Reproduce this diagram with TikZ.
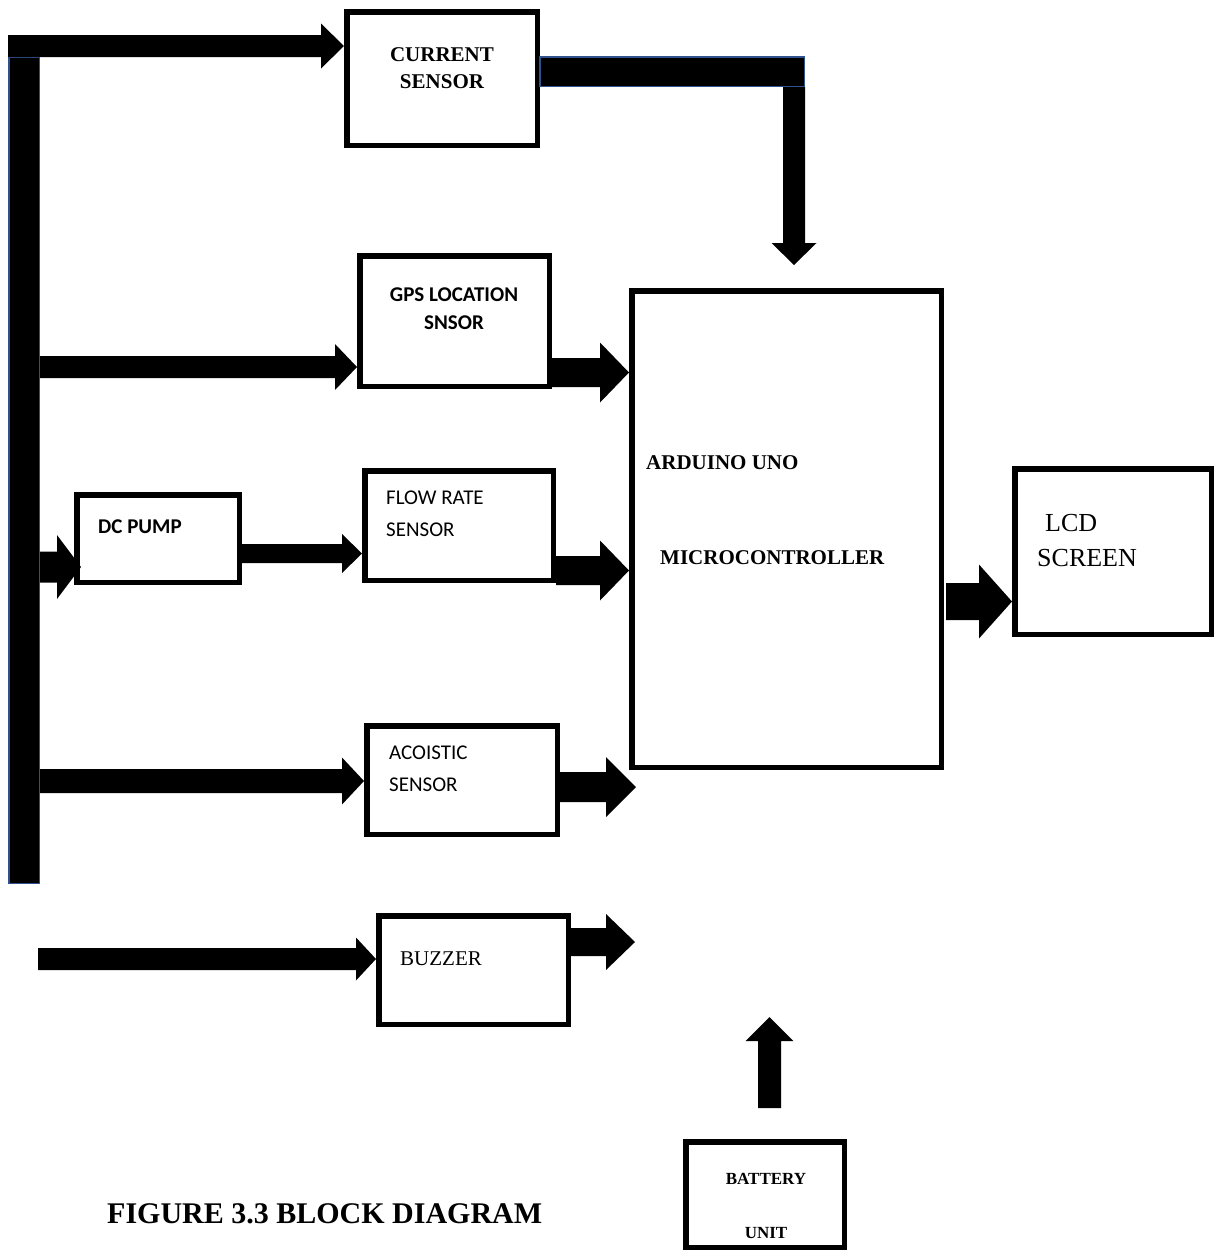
\documentclass[tikz,border=0pt]{standalone}
\usepackage{fontspec}
\setmainfont{Liberation Serif}
\newfontfamily\calibfont{Carlito}
\usetikzlibrary{calc}
\definecolor{barblue}{HTML}{2F528F}
% horizontal block arrow: #1 start, #2 tip, #3 half shaft, #4 half head, #5 head length (signed, +right)
\newcommand\harr[5]{\fill let \p1=(#1), \p2=(#2) in
  (\x1,{\y2+#3pt}) -- ({\x2-(#5)*1pt},{\y2+#3pt}) -- ({\x2-(#5)*1pt},{\y2+#4pt}) -- (\x2,\y2)
  -- ({\x2-(#5)*1pt},{\y2-#4pt}) -- ({\x2-(#5)*1pt},{\y2-#3pt}) -- (\x1,{\y2-#3pt}) -- cycle;}
% vertical block arrow: #5 head length (signed, + for downward)
\newcommand\varr[5]{\fill let \p1=(#1), \p2=(#2) in
  ({\x2-#3pt},\y1) -- ({\x2-#3pt},{\y2+(#5)*1pt}) -- ({\x2-#4pt},{\y2+(#5)*1pt}) -- (\x2,\y2)
  -- ({\x2+#4pt},{\y2+(#5)*1pt}) -- ({\x2+#3pt},{\y2+(#5)*1pt}) -- ({\x2+#3pt},\y1) -- cycle;}
\begin{document}
\begin{tikzpicture}[x=1pt,y=-1pt,
  box/.style={draw=black,line width=5.5pt,fill=white,inner sep=0pt},
  lbl/.style={inner sep=0pt},
  tb/.style={lbl,font=\fontsize{21}{25}\selectfont\bfseries},
  tr/.style={lbl,font=\fontsize{21}{25}\selectfont},
  cb/.style={lbl,font=\calibfont\fontsize{21}{25}\selectfont\bfseries},
  cr/.style={lbl,font=\calibfont\fontsize{21}{25}\selectfont}]
\useasboundingbox (0,0) rectangle (1215,1251);
\fill[white] (0,0) rectangle (1215,1251);

% boxes
\node[box,minimum width=190.5pt,minimum height=133.5pt] (cur)  at (442,78.5) {};
\node[box,minimum width=189.5pt,minimum height=130.5pt] (gps)  at (454.5,321) {};
\node[box,minimum width=162.5pt,minimum height=87.5pt]  (dcp)  at (158,538.5) {};
\node[box,minimum width=188.5pt,minimum height=109.5pt] (flow) at (459,525.5) {};
\node[box,minimum width=190.5pt,minimum height=108.5pt] (aco)  at (462,780) {};
\node[box,minimum width=189.5pt,minimum height=108.5pt] (buz)  at (473.5,970) {};
\node[box,minimum width=309.5pt,minimum height=476.5pt] (ard)  at (786.5,529) {};
\node[box,minimum width=196.5pt,minimum height=165.5pt] (lcd)  at (1113,551.5) {};
\node[box,minimum width=158.5pt,minimum height=105.5pt] (bat)  at (765,1194.5) {};

% left bus bar
\filldraw[fill=black,draw=barblue,line width=1.5pt] (8.75,57) rectangle (39.25,883.25);
\coordinate (b1) at (8,46);
\coordinate (b2) at (40,367);
\coordinate (b3) at (40,567);
\coordinate (b4) at (40,781);
\coordinate (b5) at (38,959);
\coordinate (pumpin) at (81,567);
\coordinate (g1) at (552,372.5);
\coordinate (f1) at (556,570.5);
\coordinate (d1) at (242,553.5);
\coordinate (a1) at (560,787);
\coordinate (a2) at (636,787);
\coordinate (z1) at (571,942);
\coordinate (z2) at (635,942);
\coordinate (m1) at (946,601.5);
\coordinate (c1) at (794,87);
\coordinate (c2) at (794,265);
\coordinate (p1) at (769.5,1108);
\coordinate (p2) at (769.5,1017);

% current sensor output bar
\filldraw[fill=black,draw=barblue,line width=1.5pt] (540,56.75) rectangle (804.25,86.25);

% arrows
\harr{b1}{cur.west |- b1}{11}{22.5}{23}
\harr{b2}{gps.west |- b2}{11}{23}{22}
\harr{g1}{ard.west |- g1}{14.5}{30}{29}
\harr{b3}{pumpin}{15.5}{32}{24}
\harr{d1}{flow.west |- d1}{9.5}{19.5}{20}
\harr{f1}{ard.west |- f1}{14.5}{30}{29}
\harr{b4}{aco.west |- b4}{12}{23.5}{22}
\harr{a1}{a2}{15}{30}{30}
\harr{b5}{buz.west |- b5}{11}{21.5}{20}
\harr{z1}{z2}{14}{28}{29}
\harr{m1}{lcd.west |- m1}{18.5}{37}{33}
\varr{c1}{c2}{11}{22.5}{22}
\varr{p1}{p2}{11.5}{24}{-24}

% labels
\node[tb,anchor=base] (tcur1) at (442,61) {CURRENT};
\node[tb,anchor=base] (tcur2) at (442,88) {SENSOR};
\node[cb,anchor=base] (tgps1) at (454,301) {GPS LOCATION};
\node[cb,anchor=base] (tgps2) at (454,329) {SNSOR};
\node[cb,anchor=base west] (tdcp) at (98,533) {DC PUMP};
\node[cr,anchor=base west] (tflow1) at (386,504) {FLOW RATE};
\node[cr,anchor=base west] (tflow2) at (386,536) {SENSOR};
\node[cr,anchor=base west] (taco1) at (389,759) {ACOISTIC};
\node[cr,anchor=base west] (taco2) at (389,791) {SENSOR};
\node[tr,anchor=base west] (tbuz) at (400,965) {BUZZER};
\node[tb,anchor=base west] (tard1) at (646,469) {ARDUINO UNO};
\node[tb,anchor=base west] (tard2) at (660,564) {MICROCONTROLLER};
\node[lbl,font=\fontsize{26}{30}\selectfont,anchor=base west] (tlcd1) at (1045,531) {LCD};
\node[lbl,font=\fontsize{26}{30}\selectfont,anchor=base west] (tlcd2) at (1037,566) {SCREEN};
\node[lbl,font=\fontsize{17}{20}\selectfont\bfseries,anchor=base] (tbat1) at (766,1184) {BATTERY};
\node[lbl,font=\fontsize{17}{20}\selectfont\bfseries,anchor=base] (tbat2) at (766,1238) {UNIT};
\node[lbl,font=\fontsize{30}{36}\selectfont\bfseries,anchor=base west] (tfig) at (107,1223) {FIGURE 3.3 BLOCK DIAGRAM};
\end{tikzpicture}
\end{document}
